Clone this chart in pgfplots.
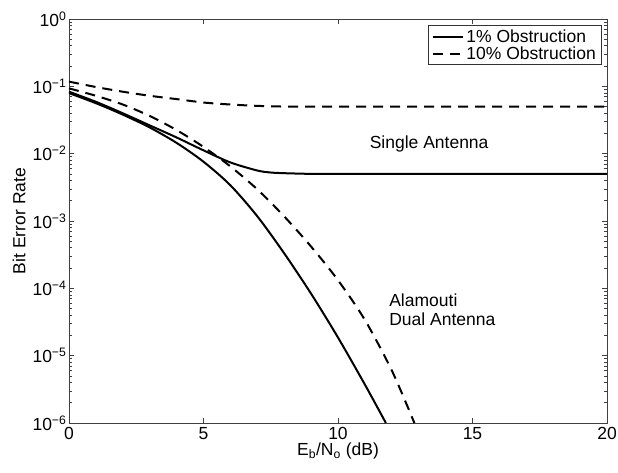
\documentclass[border=0pt]{standalone}
\usepackage{pgfplots}
\pgfplotsset{compat=1.18}
\usepackage{fontspec}
\setmainfont{Liberation Sans}
\newcommand{\fs}{\fontsize{17.5}{20}\selectfont}
\begin{document}
\begin{tikzpicture}
\begin{axis}[
  name=ax,
  scale only axis,
  width=538pt, height=404pt,
  at={(0,0)}, anchor=south west,
  xmin=0, xmax=20,
  ymode=log, ymin=1e-6, ymax=1,
  xtick={0,5,10,15,20},
  ytick={1e-6,1e-5,1e-4,1e-3,1e-2,1e-1,1},
  yticklabels={10\textsuperscript{−6},10\textsuperscript{−5},10\textsuperscript{−4},10\textsuperscript{−3},10\textsuperscript{−2},10\textsuperscript{−1},10\textsuperscript{0}},
  /pgf/number format/assume math mode=true,
  tick label style={font=\fs},
  xticklabel style={yshift=-1pt},
  yticklabel style={xshift=1pt},
  label style={font=\fs},
  xlabel={E\textsubscript{b}/N\textsubscript{o} (dB)},
  ylabel={Bit Error Rate},
  ylabel style={yshift=0pt},
  xlabel style={yshift=4pt},
  tick align=inside,
  major tick length=5pt, minor tick length=3pt,
  axis line style={line width=0.8pt, black!75},
  every tick/.style={black!75, line width=0.6pt},
  legend style={font=\fs, at={(0.991,0.985)}, anchor=north east, draw=black!80, line width=0.8pt, inner xsep=4pt, inner ysep=2pt, row sep=-1pt},
  legend cell align=left,
  legend image code/.code={\draw[#1] (0pt,0pt) -- (30pt,0pt);},
  clip=true,
]
% Alamouti 1% (solid)
\addplot[black, line width=2pt, smooth, tension=0.5] coordinates {
(0,0.0794) (1,0.0562) (2,0.0380) (3,0.0245) (4,0.01445) (5,0.00759) (6,0.00339) (7,0.001175) (8,0.000331) (9,0.0000832) (10,0.0000186) (11,0.00000372) (11.78,0.000001)
};
\addlegendentry{1\% Obstruction}
% Alamouti 10% (dashed)
\addplot[black, line width=2pt, dash pattern=on 10pt off 7pt, smooth, tension=0.5] coordinates {
(0,0.0933) (1,0.0724) (2,0.0537) (3,0.0363) (4,0.0224) (5,0.0126) (6,0.00646) (7,0.00295) (8,0.00117) (9,0.000417) (10,0.000132) (11,0.0000339) (12,0.00000603) (12.84,0.000001)
};
\addlegendentry{10\% Obstruction}
% Single 1% (solid)
\addplot[black, line width=2pt, smooth, tension=0.5, forget plot] coordinates {
(0,0.0832) (1,0.0589) (2,0.0398) (3,0.0263) (4,0.0174) (5,0.0112) (6,0.00741) (7,0.00562) (7.5,0.00525) (8,0.00513) (9,0.00501) (10,0.005) (12,0.005) (16,0.005) (20,0.005)
};
% Single 10% (dashed)
\addplot[black, line width=2pt, dash pattern=on 10pt off 7pt, smooth, tension=0.5, forget plot] coordinates {
(0,0.1175) (1,0.0977) (2,0.0832) (3,0.0724) (4,0.0646) (5,0.0575) (6,0.0537) (7,0.0513) (8,0.0501) (10,0.05) (14,0.05) (20,0.05)
};
\node[font=\fs, anchor=west] at (axis cs:11.05,0.0139) {Single Antenna};
\node[font=\fs, anchor=west, align=left, inner sep=0pt] at (axis cs:11.9,0.000048) {Alamouti\\[-1pt]Dual Antenna};
\end{axis}
\pgfresetboundingbox
\path[use as bounding box] (-69pt,-50pt) rectangle (549pt,423pt);
\end{tikzpicture}
\end{document}
